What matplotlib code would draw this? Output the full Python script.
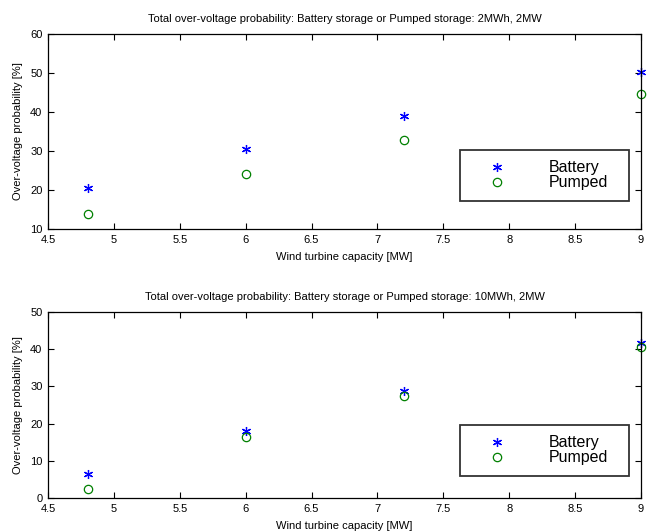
import numpy as np
import matplotlib
matplotlib.use('Agg')
import matplotlib.pyplot as plt

# wind turbine capacity [MW]
capacity = [4.8, 6.0, 7.2, 9.0]

# 2MWh, 2MW storage
battery_2mwh = [20.4, 30.6, 39.1, 50.3]
pumped_2mwh = [13.9, 24.0, 32.8, 44.5]

# 10MWh, 2MW storage
battery_10mwh = [6.5, 18.0, 28.8, 41.8]
pumped_10mwh = [2.5, 16.3, 27.3, 40.5]

titles = ['Total over-voltage probability: Battery storage or Pumped storage: 2MWh, 2MW',
          'Total over-voltage probability: Battery storage or Pumped storage: 10MWh, 2MW']
ylims = [(10, 60), (0, 50)]
xticks = [4.5, 5, 5.5, 6, 6.5, 7, 7.5, 8, 8.5, 9]
xticklabels = ['4.5', '5', '5.5', '6', '6.5', '7', '7.5', '8', '8.5', '9']

plt.rcParams['font.family'] = ['Liberation Sans', 'DejaVu Sans']

fig = plt.figure(figsize=(6.48, 5.32), dpi=100)
ax1 = fig.add_axes([0.0741, 0.5695, 0.915, 0.3665])
ax2 = fig.add_axes([0.0741, 0.0639, 0.915, 0.3496])

star = (6, 2, 0)
# axes-fraction of the legend box top edge in each panel
panels = [(ax1, battery_2mwh, pumped_2mwh, 0.405), (ax2, battery_10mwh, pumped_10mwh, 0.393)]

for i, (ax, bat, pum, ytop) in enumerate(panels):
    ax.plot(capacity, bat, linestyle='none', marker=star, ms=6.5, mew=0.9,
            color='blue', label='Battery', clip_on=False)
    ax.plot(capacity, pum, linestyle='none', marker='o', ms=6, mew=0.9,
            mfc='none', color='green', label='Pumped', clip_on=False)
    ax.set_xlim(4.5, 9)
    ax.set_ylim(*ylims[i])
    ax.set_xticks(xticks)
    ax.set_xticklabels(xticklabels)
    ax.set_yticks(np.arange(ylims[i][0], ylims[i][1] + 1, 10))
    ax.tick_params(direction='in', top=True, right=True, length=4, width=0.8,
                   labelsize=8, pad=4)
    for sp in ax.spines.values():
        sp.set_linewidth(0.9)
    ax.set_title(titles[i], fontsize=8, pad=9)
    ax.set_xlabel('Wind turbine capacity [MW]', fontsize=8, labelpad=5.5)
    ax.set_ylabel('Over-voltage probability [%]', fontsize=8, labelpad=5)
    leg = ax.legend(loc='upper left', bbox_to_anchor=(0.695, ytop, 0.285, 0.0),
                    mode='expand', fontsize=11.5, frameon=True, fancybox=False,
                    edgecolor='black', borderpad=0.65, labelspacing=0.0,
                    handlelength=3.3, handletextpad=1.6, borderaxespad=0.0)
    leg.get_frame().set_linewidth(1.3)

fig.savefig('out.png', dpi=100)
